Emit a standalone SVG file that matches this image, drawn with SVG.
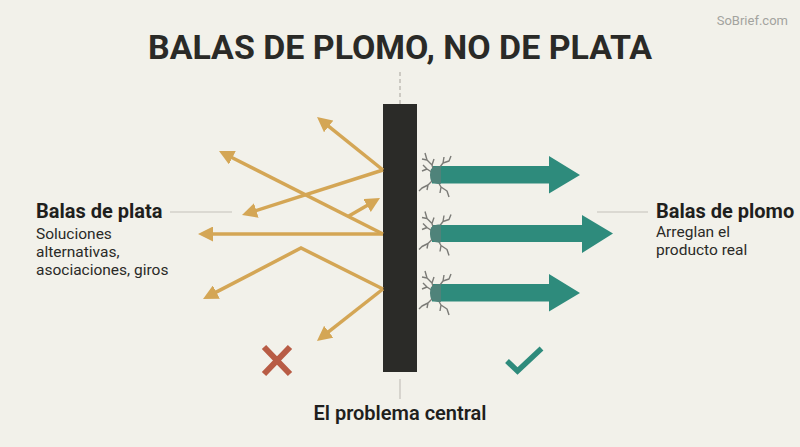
<svg xmlns="http://www.w3.org/2000/svg" width="800" height="447" viewBox="0 0 800 447">
<defs>
<style>
.bg{fill:#f2f1ea}
.title{font-family:Roboto,"Liberation Sans",sans-serif;font-weight:bold;font-size:34px;fill:#2a2a27}
.wm{font-family:Roboto,"Liberation Sans",sans-serif;font-size:13px;fill:#a3a39e}
.lbl{font-family:Roboto,"Liberation Sans",sans-serif;font-weight:bold;font-size:20px;fill:#1f1f1d}
.sub{font-family:Roboto,"Liberation Sans",sans-serif;font-size:15.5px;fill:#2a2a27}
.cap{font-family:Roboto,"Liberation Sans",sans-serif;font-weight:600;font-size:20px;fill:#1f1f1d}
.gold{fill:none;stroke:#d4a655;stroke-width:3.5;stroke-linejoin:miter}
.guide{stroke:#c4c2ba;stroke-width:1.2}
.teal{fill:#2e8b7c}
.crack{fill:none;stroke:#7b7b77;stroke-width:1.4;stroke-linejoin:round}
</style>
<marker id="ah" viewBox="0 0 15 15" refX="4" refY="7.5" markerWidth="15" markerHeight="15" markerUnits="userSpaceOnUse" orient="auto">
<path d="M0,0 L15,7.5 L0,15 z" fill="#d4a655"/>
</marker>
<g id="crk">
<path class="crack" d="M-1,-3 L-3,-10 L-8,-15 L-10,-22 M-3,-10 L-1,-16 M-8,-15 L-13,-16"/>
<path class="crack" d="M2,-4 L8,-12 L14,-14 L16,-19 M8,-12 L9,-18"/>
<path class="crack" d="M-2,-2 L-8,-6 L-12,-10 M-8,-6 L-13,-4"/>
<path class="crack" d="M-1,4 L-7,10 L-13,13 L-16,16 M-7,10 L-8,15"/>
<path class="crack" d="M2,5 L6,12 L12,16 L14,22 M6,12 L5,18"/>
<path d="M-4,-6 Q0,-10 6,-8.7 L6,8.7 Q0,10 -4,6 Q-6,0 -4,-6 z" fill="#4f837a"/>
</g>
</defs>
<rect class="bg" x="0" y="0" width="800" height="447"/>
<text class="wm" x="788" y="25" text-anchor="end">SoBrief.com</text>
<text class="title" x="148" y="59" textLength="504" lengthAdjust="spacingAndGlyphs">BALAS DE PLOMO, NO DE PLATA</text>

<g id="wall">
<line x1="400" y1="72" x2="400" y2="104" stroke="#b8b6ae" stroke-width="1.3" stroke-dasharray="4 3"/>
<rect x="383" y="104" width="34" height="268" fill="#2b2b28"/>
<line class="guide" x1="400" y1="379" x2="400" y2="399"/>
<text class="cap" x="400" y="420" text-anchor="middle">El problema central</text>
</g>

<g id="silver-label">
<line class="guide" x1="170" y1="212" x2="232" y2="212"/>
<text class="lbl" x="36" y="218">Balas de plata</text>
<text class="sub" x="36" y="239">Soluciones</text>
<text class="sub" x="36" y="257">alternativas,</text>
<text class="sub" x="36" y="275">asociaciones, giros</text>
</g>

<g id="lead-label">
<line class="guide" x1="597" y1="212" x2="648" y2="212"/>
<text class="lbl" x="656" y="218">Balas de plomo</text>
<text class="sub" x="656" y="237">Arreglan el</text>
<text class="sub" x="656" y="255">producto real</text>
</g>

<g id="silver-bullets">
<line class="gold" x1="383" y1="170" x2="325.6" y2="123.9" marker-end="url(#ah)"/>
<line class="gold" x1="383" y1="170" x2="252.5" y2="211.7" marker-end="url(#ah)"/>
<line class="gold" x1="383" y1="234" x2="228.8" y2="156" marker-end="url(#ah)"/>
<line class="gold" x1="348" y1="216.5" x2="370.5" y2="203.5" marker-end="url(#ah)"/>
<line class="gold" x1="383" y1="234" x2="209" y2="234" marker-end="url(#ah)"/>
<polyline class="gold" points="383,289 301,248 212.8,293.9" marker-end="url(#ah)"/>
<line class="gold" x1="383" y1="289" x2="325.6" y2="334.2" marker-end="url(#ah)"/>
</g>

<g id="lead-bullets">
<polygon class="teal" points="432,166 549,166 549,156 580,175 549,193.5 549,183.5 432,183.5"/>
<polygon class="teal" points="432,225 582,225 582,215 613,233.5 582,253 582,242 432,242"/>
<polygon class="teal" points="432,284 549,284 549,274 580,293 549,311.5 549,301.5 432,301.5"/>
<use href="#crk" x="435" y="175"/>
<use href="#crk" x="435" y="233.5"/>
<use href="#crk" x="435" y="293"/>
</g>

<g id="cross">
<path d="M264,347 L290,374 M290,347 L264,374" stroke="#b85c45" stroke-width="6" fill="none"/>
</g>
<g id="check">
<path d="M507,361 L517.5,371 L541.5,348.5" stroke="#2e8b7c" stroke-width="5.5" fill="none"/>
</g>
</svg>
